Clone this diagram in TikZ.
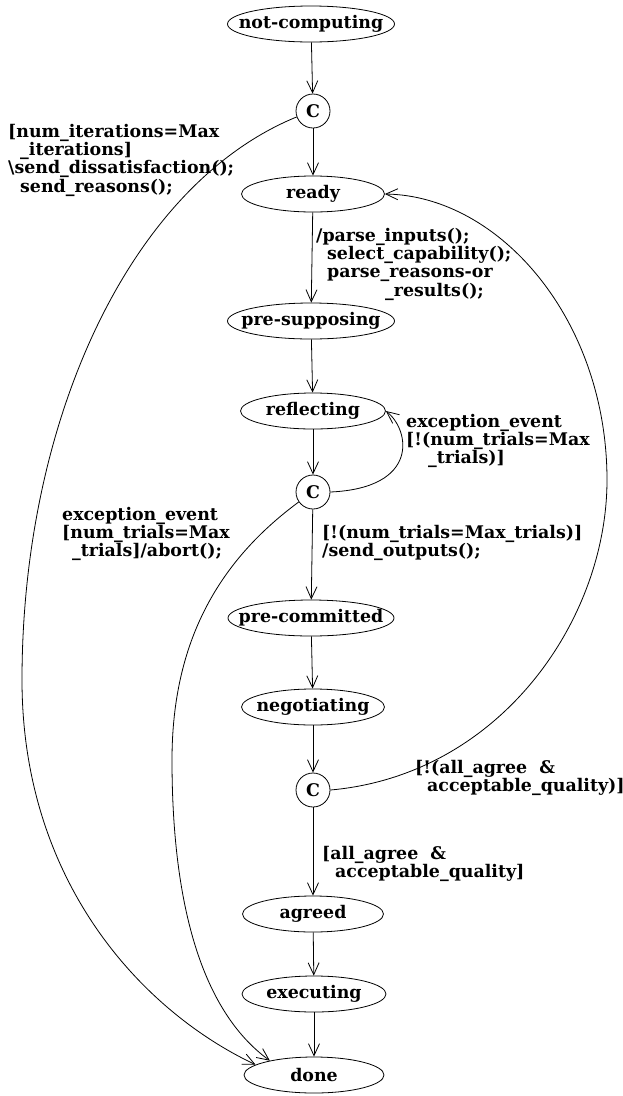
\documentclass[tikz,border=0pt]{standalone}
\usepackage{fontspec}
\setmainfont{DejaVu Serif}
\usetikzlibrary{shapes.geometric,arrows.meta}
\begin{document}
\begin{tikzpicture}[x=1pt,y=-1pt,
  every node/.style={font=\fontsize{17.4}{18.2}\selectfont\bfseries},
  state/.style={draw,ellipse,minimum height=36pt,inner xsep=-30pt,inner ysep=0pt,line width=0.8pt},
  choice/.style={draw,circle,minimum size=34pt,inner sep=0pt,line width=0.8pt},
  lbl/.style={anchor=north west,align=left,inner sep=0pt},
  tr/.style={-{Straight Barb[length=12pt,width=11pt]},line width=0.8pt}]
\useasboundingbox (0,0) rectangle (623,1096);

% states and choice points
\node[state,minimum width=167pt] (nc)  at (311,24)   {not-computing};
\node[choice] (c1) at (313,111) {C};
\node[state,minimum width=143pt] (rdy) at (313,194)  {ready};
\node[state,minimum width=167pt] (pre) at (311,321)  {pre-supposing};
\node[state,minimum width=145pt] (ref) at (313,411)  {reflecting};
\node[choice] (c2) at (313,492) {C};
\node[state,minimum width=166pt] (pco) at (311,618)  {pre-committed};
\node[state,minimum width=143pt] (neg) at (313,707)  {negotiating};
\node[choice] (c3) at (313,790) {C};
\node[state,minimum width=141pt] (agr) at (313,914)  {agreed};
\node[state,minimum width=144pt] (exe) at (314,994)  {executing};
\node[state,minimum width=140pt] (don) at (314,1075) {done};

% straight transitions
\draw[tr] (nc) -- (c1);
\draw[tr] (c1) -- (rdy);
\draw[tr] (rdy) -- (pre);
\draw[tr] (pre) -- (ref);
\draw[tr] (ref) -- (c2);
\draw[tr] (c2) -- (pco);
\draw[tr] (pco) -- (neg);
\draw[tr] (neg) -- (c3);
\draw[tr] (c3) -- (agr);
\draw[tr] (agr) -- (exe);
\draw[tr] (exe) -- (don);

% curved transitions
\draw[tr] (c1.200) .. controls (130,185) and (22,420) .. (22,680)
  .. controls (22,880) and (140,1010) .. (don.170);
\draw[tr] (c2.215) .. controls (220,560) and (172,640) .. (172,760)
  .. controls (172,900) and (200,1010) .. (don.162);
\draw[tr] (c2.east) .. controls (420,488) and (410,430) .. (ref.east);
\draw[tr] (c3.east) .. controls (500,775) and (607,620) .. (607,480)
  .. controls (607,320) and (500,196) .. (rdy.east);

% transition labels
\node[lbl] (l1) at (8,124) {[num\_iterations=Max\\\hspace*{12pt}\_iterations]\\\textbackslash send\_dissatisfaction();\\\hspace*{12pt}send\_reasons();};
\node[lbl] (l2) at (316,228) {/parse\_inputs();\\\hspace*{11pt}select\_capability();\\\hspace*{11pt}parse\_reasons-or\\\hspace*{69pt}\_results();};
\node[lbl] (l3) at (406,414) {exception\_event\\{}[!(num\_trials=Max\\\hspace*{22pt}\_trials)]};
\node[lbl] (l4) at (62,507) {exception\_event\\{}[num\_trials=Max\\\hspace*{10pt}\_trials]/abort();};
\node[lbl] (l5) at (322,525) {[!(num\_trials=Max\_trials)]\\/send\_outputs();};
\node[lbl] (l6) at (415,760) {[!(all\_agree\ \ \&\\\hspace*{12pt}acceptable\_quality)]};
\node[lbl] (l7) at (322,846) {[all\_agree\ \ \&\\\hspace*{13pt}acceptable\_quality]};
\end{tikzpicture}
\end{document}
